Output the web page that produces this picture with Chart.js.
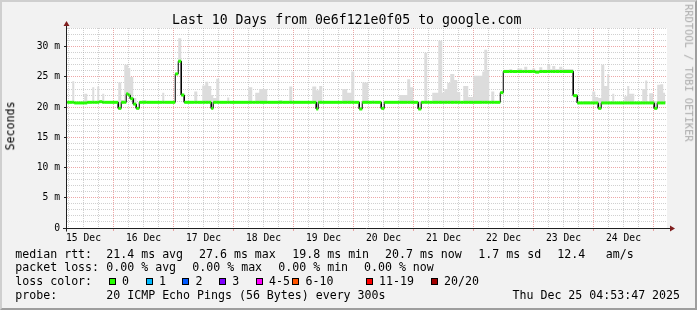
<!DOCTYPE html>
<html><head><meta charset="utf-8">
<script src="https://cdn.jsdelivr.net/npm/chart.js@4.4.1/dist/chart.umd.min.js"></script>
<style>
html,body{margin:0;padding:0;background:#f2f2f2;}
#wrap{position:relative;width:697px;height:310px;background:#f2f2f2;overflow:hidden;box-sizing:border-box;
  border-top:2px solid #cfcfcf;border-left:2px solid #cfcfcf;border-bottom:2px solid #9e9e9e;border-right:2px solid #9e9e9e;}
#c{position:absolute;left:-2px;top:-2px;}
.t{position:absolute;font-family:'DejaVu Sans Mono',monospace;white-space:pre;color:#000;font-size:11.6px;line-height:11.6px;}
.sq{position:absolute;width:5px;height:5px;border:1px solid #000;}
</style></head>
<body><div id="wrap">
<canvas id="c" width="697" height="310"></canvas>
</div>
<script>
// ---- data (hours since 15 Dec 00:00; values in ms) ----
const DAY_LABELS = ['15 Dec','16 Dec','17 Dec','18 Dec','19 Dec','20 Dec','21 Dec','22 Dec','23 Dec','24 Dec'];
const Y_LABEL_VALUES = [0, 5, 10, 15, 20, 25, 30];
const Y_LABELS = ['0', '5 m', '10 m', '15 m', '20 m', '25 m', '30 m'];
const SEG_END = 244.7;
const SEG_START = [
  5.5, 7.5, 8.3, 12.3, 13.5, 15.5, 16.3, 17.5, 18.3, 19.5,
  20.3, 25.9, 27.1, 28.3, 29.1, 29.9, 30.7, 31.9, 33.1, 34.3,
  35.5, 37.1, 43.5, 44.3, 48.7, 49.9, 51.1, 52.3, 56.3, 57.5,
  59.5, 60.7, 61.9, 63.1, 63.9, 65.1, 66.3, 69.5, 70.3, 77.9,
  79.5, 80.7, 82.3, 85.5, 89.9, 91.5, 94.3, 95.5, 103.5, 105.1,
  105.9, 106.3, 107.5, 115.5, 117.5, 119.1, 120.3, 122.3, 123.5, 125.9,
  127.5, 128.3, 131.1, 132.3, 138.3, 141.5, 142.7, 143.9, 145.9, 147.1,
  148.3, 149.5, 150.3, 151.5, 153.9, 155.5, 156.3, 157.5, 158.7, 160.3,
  161.5, 162.7, 163.9, 165.9, 167.9, 171.5, 172.3, 173.5, 174.3, 175.1,
  176.3, 178.7, 179.9, 182.3, 183.5, 185.5, 187.5, 188.3, 189.5, 191.5,
  192.7, 194.3, 195.5, 197.5, 198.7, 199.5, 200.7, 202.3, 203.5, 207.9,
  209.5, 211.9, 214.7, 215.5, 216.7, 217.9, 219.1, 220.3, 221.5, 222.3,
  223.5, 224.3, 228.3, 229.5, 230.3, 232.3, 235.5, 236.7, 237.5, 238.3,
  239.9, 240.3, 241.5, 242.7, 243.9
];
const MEDIAN = [
  20.8, 20.8, 20.7, 20.7, 20.8, 20.8, 20.8, 20.8, 20.9, 20.8,
  20.8, 19.8, 20.8, 20.8, 22.2, 22.0, 21.4, 20.5, 19.8, 20.8,
  20.8, 20.8, 20.8, 20.8, 25.5, 27.6, 22.0, 20.8, 20.8, 20.8,
  20.8, 20.8, 20.8, 19.8, 20.8, 20.8, 20.8, 20.8, 20.8, 20.8,
  20.8, 20.8, 20.8, 20.8, 20.8, 20.8, 20.8, 20.8, 20.8, 19.7,
  20.8, 20.8, 20.8, 20.8, 20.8, 20.8, 20.8, 19.7, 20.8, 20.8,
  20.8, 20.8, 19.8, 20.8, 20.8, 20.8, 20.8, 20.8, 19.7, 20.8,
  20.8, 20.8, 20.8, 20.8, 20.8, 20.8, 20.8, 20.8, 20.8, 20.8,
  20.8, 20.8, 20.8, 20.8, 20.8, 20.8, 20.8, 20.8, 20.8, 20.8,
  20.8, 22.4, 25.9, 25.9, 25.9, 25.9, 25.9, 25.9, 25.9, 25.9,
  25.8, 25.9, 25.9, 25.9, 25.9, 25.9, 25.9, 25.9, 25.9, 21.9,
  20.7, 20.7, 20.7, 20.7, 20.7, 19.8, 20.7, 20.7, 20.7, 20.7,
  20.7, 20.7, 20.7, 20.7, 20.7, 20.7, 20.7, 20.7, 20.7, 20.7,
  20.7, 19.8, 20.7, 20.7, 20.7
];
const SMOKE_MAX = [
  null, 24.3, null, 22.2, null, 23.3, null, 23.4, null, 22.2,
  null, 24.1, 21.2, 27.0, 27.0, 26.5, 25.0, 21.5, null, null,
  21.2, null, 22.4, null, null, 31.4, 22.3, null, 22.6, null,
  23.6, 24.2, 23.5, 22.0, 21.5, 24.7, null, 21.6, null, 23.3,
  21.0, 22.4, 23.0, null, 21.2, null, 23.4, null, 23.4, 22.8,
  22.8, 23.5, null, 23.0, 22.4, 25.9, null, null, 24.1, null,
  21.1, null, null, null, 22.0, 24.6, 23.3, null, 21.0, null,
  29.0, 21.0, null, 22.4, 31.0, 22.4, 23.0, 24.0, 25.5, 24.5,
  22.5, null, 23.5, 21.7, 25.2, 25.9, 29.5, 26.0, null, 22.6,
  null, null, 26.2, 26.3, 26.1, 26.4, 26.2, 26.7, 26.2, 26.4,
  26.1, 26.6, 26.2, 27.0, 26.3, 26.8, 26.3, 26.7, 26.3, null,
  null, 21.0, null, 22.6, 21.7, 21.5, 27.0, 23.5, 25.5, null,
  22.2, null, 21.8, 23.5, 22.2, null, 23.0, 24.4, null, 22.3,
  null, 21.0, 23.7, 23.8, 22.4
];
const LOSS_COLORS = ['#26ff00','#00b8ff','#0059ff','#7e00ff','#ff00ff','#ff5500','#ff0000','#a10000'];
const LOSS_LABELS = ['0','1','2','3','4-5','6-10','11-19','20/20'];

// ---- build step tables for the library ----
function stepPoints(vals, fallback){
  const pts = [];
  for (let i = 0; i < SEG_START.length; i++){
    const x0 = SEG_START[i], x1 = i + 1 < SEG_START.length ? SEG_START[i+1] : SEG_END;
    const v = vals[i] == null ? fallback[i] : vals[i];
    pts.push({x:x0, y:v}, {x:x1, y:v});
  }
  return pts;
}
const medianPts = stepPoints(MEDIAN, MEDIAN);
const smokePts = stepPoints(SMOKE_MAX, MEDIAN);

const GRID = 'rgba(150,150,150,0.45)';
const MGRID = 'rgba(222,80,80,0.5)';
const TRANSP = 'rgba(0,0,0,0)';
const AXISFONT = {family:'DejaVu Sans Mono', size:9.7};

const frame = {
  id:'rrdFrame',
  beforeDraw(chart){
    const {ctx, chartArea:a} = chart;
    ctx.save(); ctx.fillStyle = '#ffffff';
    ctx.fillRect(a.left, a.top, a.right - a.left, a.bottom - a.top);
    ctx.restore();
  },
  afterDatasetsDraw(chart){
    const {ctx, chartArea:a} = chart;
    const ax = Math.round(a.left) - 0.5, ay = Math.round(a.bottom) + 0.5;
    ctx.save();
    ctx.strokeStyle = '#1f1f1f'; ctx.lineWidth = 1;
    ctx.beginPath();
    ctx.moveTo(ax, ay + 3); ctx.lineTo(ax, a.top - 3);
    ctx.moveTo(a.left - 4, ay); ctx.lineTo(a.right + 3, ay);
    ctx.stroke();
    ctx.fillStyle = '#801f1f';
    ctx.beginPath();
    ctx.moveTo(ax, a.top - 7); ctx.lineTo(ax - 3, a.top - 2); ctx.lineTo(ax + 3, a.top - 2); ctx.closePath(); ctx.fill();
    ctx.beginPath();
    ctx.moveTo(a.right + 8, ay); ctx.lineTo(a.right + 3, ay - 3); ctx.lineTo(a.right + 3, ay + 3); ctx.closePath(); ctx.fill();
    ctx.restore();
  }
};

new Chart(document.getElementById('c'), {
  type:'line',
  data:{ datasets:[
    { label:'median loss 0', data:medianPts, borderWidth:3, borderCapStyle:'butt', pointRadius:0, fill:false,
      borderColor:LOSS_COLORS[0],
      segment:{ borderColor: c => c.p0.parsed.x === c.p1.parsed.x ? TRANSP : LOSS_COLORS[0] } },
    { label:'median', data:medianPts, borderWidth:1, borderColor:'#000000', pointRadius:0, fill:false },
    { label:'smoke', data:smokePts, borderWidth:0, borderColor:TRANSP, pointRadius:0,
      backgroundColor:'#dcdcdc', fill:1 }
  ]},
  options:{
    responsive:false, animation:false, devicePixelRatio:1,
    layout:{ padding:{left:0, right:30, top:28, bottom:0} },
    plugins:{ legend:{display:false}, tooltip:{enabled:false}, title:{display:false} },
    elements:{ line:{ tension:0 } },
    scales:{
      x:{ type:'linear', min:5.4, max:245.4,
        afterBuildTicks(s){ const t=[]; for(let v=6; v<=240; v+=6) t.push({value:v}); s.ticks=t; },
        afterFit(s){ s.height = 82; },
        grid:{ lineWidth:1, tickLength:3,
          color: c => (c.tick && c.tick.value % 24 === 0) ? MGRID : GRID,
          tickColor: c => (c.tick && c.tick.value % 24 === 0) ? MGRID : TRANSP },
        border:{ display:false, dash:[1,1] },
        ticks:{ autoSkip:false, maxRotation:0, minRotation:0, padding:2, color:'#000', font:AXISFONT,
          callback: v => ((v - 12) % 24 === 0) ? DAY_LABELS[(v - 12) / 24] : '' }
      },
      y:{ type:'linear', min:0, max:33.1,
        afterBuildTicks(s){ const t=[]; for(let v=0; v<=33; v++) t.push({value:v}); s.ticks=t; },
        afterFit(s){ s.width = 67; },
        grid:{ lineWidth:1, tickLength:3,
          color: c => (c.tick && c.tick.value % 5 === 0) ? MGRID : GRID,
          tickColor: c => (c.tick && c.tick.value % 5 === 0) ? '#1f1f1f' : TRANSP },
        border:{ display:false, dash:[1,1] },
        ticks:{ autoSkip:false, padding:4, color:'#000', font:AXISFONT,
          callback: v => { const i = Y_LABEL_VALUES.indexOf(v); return i < 0 ? '' : Y_LABELS[i]; } }
      }
    }
  },
  plugins:[frame]
});

// ---- text (HTML) ----
const wrap = document.getElementById('wrap');
function txt(s, x, y, extra){
  const d = document.createElement('div'); d.className = 't'; d.textContent = s;
  d.style.left = (x - 2) + 'px'; d.style.top = (y - 2) + 'px';
  if (extra) Object.assign(d.style, extra);
  wrap.appendChild(d); return d;
}
txt('Last 10 Days from 0e6f121e0f05 to google.com', 172, 12.6, {fontSize:'13.2px', lineHeight:'13.2px'});
txt('Seconds', 10.5, 126, {fontSize:'11.6px', transform:'translate(-50%,-50%) rotate(-90deg)'});
txt('RRDTOOL / TOBI OETIKER', 689, 73, {fontSize:'10.4px', lineHeight:'10.4px', color:'#aaaaaa', transform:'translate(-50%,-50%) rotate(90deg)'});

const ROW_TOP = [248.6, 262.3, 276.0, 289.7];
const ROW1 = [['median rtt:',15.3],['21.4 ms avg',106.3],['27.6 ms max',199],['19.8 ms min',292.3],['20.7 ms now',385],['1.7 ms sd',478.3],['12.4',557.3],['am/s',605.7]];
const ROW2 = [['packet loss:',15.3],['0.00 % avg',106.3],['0.00 % max',192.3],['0.00 % min',278.3],['0.00 % now',364]];
const ROW4 = [['probe:',15.3],['20 ICMP Echo Pings (56 Bytes) every 300s',106.3],['Thu Dec 25 04:53:47 2025',512.5]];
ROW1.forEach(([s,x]) => txt(s, x, ROW_TOP[0]));
ROW2.forEach(([s,x]) => txt(s, x, ROW_TOP[1]));
txt('loss color:', 15.3, ROW_TOP[2]);
const SQ_X = [108.7,145.7,182.3,219,255.7,292.3,365.7,430.7];
LOSS_LABELS.forEach((l, i) => {
  const q = document.createElement('div'); q.className = 'sq';
  q.style.left = (SQ_X[i] - 2) + 'px'; q.style.top = (278.3 - 2) + 'px'; q.style.background = LOSS_COLORS[i];
  wrap.appendChild(q);
  txt(l, SQ_X[i] + 13.3, ROW_TOP[2]);
});
ROW4.forEach(([s,x]) => txt(s, x, ROW_TOP[3]));
</script>
</body></html>
